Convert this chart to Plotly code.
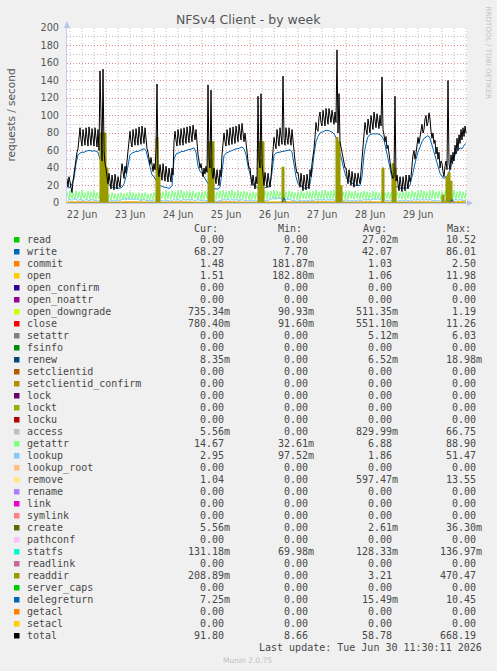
import pandas as pd
import plotly.graph_objects as go

# ---------------- data ----------------
# half-hourly samples, Jun 22 04:30 .. Jun 30 12:00 (400 points)
times30 = pd.date_range("2026-06-22 04:30", periods=400, freq="30min")
# hourly samples, Jun 22 05:00 .. Jun 30 12:00 (200 points)
times = pd.date_range("2026-06-22 05:00", periods=200, freq="h")
coarse_times = pd.date_range("2026-06-22 00:00", "2026-06-30 12:00", freq="12h")

total = [
    # Jun 22 04:30-23:30
    28, 18, 30, 22, 14, 12, 25, 35, 42, 50, 58, 62, 78, 86, 72, 65, 84, 76, 66, 86,
    74, 65, 87, 75, 66, 85, 73, 65, 86, 74, 64, 84, 60, 151, 70, 48, 153, 60, 45,
    # Jun 23
    40, 30, 22, 34, 25, 16, 32, 24, 15, 33, 24, 16, 30, 22, 18, 34, 45, 36, 28, 42,
    34, 48, 62, 72, 82, 70, 64, 84, 74, 66, 85, 75, 66, 87, 76, 67, 88, 76, 68, 86,
    72, 62, 58, 50, 44, 52, 40, 36,
    # Jun 24
    45, 38, 60, 136, 40, 30, 44, 34, 26, 45, 34, 25, 42, 32, 24, 40, 30, 24, 40, 32,
    70, 82, 72, 65, 84, 74, 66, 85, 75, 66, 86, 76, 68, 87, 77, 69, 88, 78, 70, 89,
    78, 72, 84, 66, 55, 48, 40, 45,
    # Jun 25
    38, 30, 40, 33, 42, 35, 135, 50, 40, 129, 35, 28, 40, 30, 22, 38, 28, 20, 38, 30,
    55, 68, 80, 70, 65, 84, 74, 66, 86, 75, 67, 87, 76, 68, 88, 78, 70, 90, 80, 72,
    91, 78, 70, 80, 66, 58, 48, 40,
    # Jun 26
    40, 28, 20, 32, 24, 16, 30, 22, 122, 50, 40, 125, 45, 30, 20, 35, 26, 18, 34, 24,
    18, 30, 45, 62, 75, 68, 62, 84, 73, 65, 86, 75, 67, 145, 74, 66, 86, 75, 67, 86,
    74, 66, 84, 70, 56, 48, 40, 34,
    # Jun 27
    35, 24, 18, 34, 24, 14, 32, 22, 15, 33, 24, 16, 38, 30, 45, 52, 62, 75, 92, 84,
    82, 98, 104, 92, 88, 106, 96, 88, 108, 97, 90, 108, 98, 92, 106, 96, 90, 104, 92, 175,
    80, 125, 70, 64, 58, 52, 45, 40,
    # Jun 28
    40, 30, 22, 38, 28, 20, 36, 26, 18, 34, 25, 20, 34, 28, 22, 36, 50, 66, 80, 92,
    84, 78, 96, 86, 80, 100, 90, 84, 104, 94, 86, 102, 92, 85, 100, 88, 144, 84, 78, 70,
    76, 62, 66, 55, 45, 38, 32, 28,
    # Jun 29
    30, 122, 25, 32, 22, 14, 30, 21, 13, 30, 22, 14, 32, 22, 16, 32, 24, 30, 45, 55,
    60, 50, 57, 70, 75, 68, 76, 86, 90, 80, 84, 96, 100, 88, 92, 103, 96, 82, 74, 80,
    68, 72, 56, 64, 50, 58, 40, 48,
    # Jun 30 00:00-12:00
    45, 36, 30, 42, 48, 38, 140, 45, 38, 55, 45, 58, 48, 66, 56, 74, 60, 78, 68, 84,
    72, 86, 76, 88, 80,
]

getattr_ = [
    # Jun 22 04:30-23:30
    13, 7, 4, 14, 8, 5, 12, 7, 4, 14, 9, 5, 13, 8, 4, 15, 9, 5, 12, 7,
    4, 14, 8, 4, 13, 9, 5, 14, 8, 4, 12, 7, 5, 13, 8, 4, 11, 6, 4,
    # Jun 23
    11, 6, 4, 10, 6, 3, 12, 7, 4, 11, 6, 3, 10, 6, 4, 12, 7, 4, 11, 6,
    3, 12, 7, 4, 13, 8, 4, 12, 7, 4, 11, 6, 4, 12, 7, 3, 11, 7, 4, 12,
    6, 4, 10, 6, 3, 11, 7, 4,
    # Jun 24
    12, 7, 4, 13, 8, 4, 12, 7, 5, 13, 8, 4, 14, 8, 5, 13, 7, 4, 14, 9,
    5, 13, 8, 4, 14, 8, 5, 15, 9, 4, 13, 8, 4, 14, 9, 5, 13, 7, 4, 14,
    8, 5, 12, 7, 4, 13, 8, 4,
    # Jun 25
    13, 8, 4, 14, 9, 5, 13, 8, 4, 15, 9, 5, 14, 8, 4, 13, 8, 5, 14, 9,
    4, 15, 8, 5, 13, 8, 4, 14, 9, 5, 15, 9, 4, 13, 8, 5, 14, 9, 4, 13,
    7, 5, 14, 8, 4, 13, 8, 4,
    # Jun 26
    12, 7, 4, 13, 8, 4, 12, 7, 5, 14, 8, 4, 13, 9, 5, 14, 8, 4, 13, 8,
    5, 14, 9, 5, 15, 8, 4, 14, 9, 5, 13, 8, 4, 14, 9, 5, 13, 8, 4, 14,
    8, 5, 13, 7, 4, 12, 7, 4,
    # Jun 27
    13, 8, 4, 14, 9, 5, 12, 7, 4, 14, 8, 5, 13, 8, 4, 14, 9, 5, 15, 9,
    4, 13, 8, 5, 14, 9, 4, 15, 9, 5, 13, 8, 4, 14, 9, 5, 15, 8, 4, 13,
    8, 5, 14, 9, 4, 13, 8, 4,
    # Jun 28
    13, 8, 4, 14, 9, 5, 13, 7, 4, 14, 8, 5, 12, 7, 4, 13, 8, 5, 14, 9,
    4, 13, 8, 4, 12, 7, 5, 14, 8, 4, 13, 9, 5, 12, 7, 4, 13, 8, 4, 12,
    7, 5, 13, 8, 4, 12, 7, 4,
    # Jun 29
    12, 7, 4, 13, 8, 5, 12, 7, 4, 13, 8, 4, 14, 9, 5, 13, 8, 4, 14, 9,
    5, 13, 8, 4, 14, 9, 5, 15, 9, 4, 14, 8, 5, 13, 8, 4, 14, 9, 5, 15,
    9, 4, 13, 8, 5, 14, 9, 4,
    # Jun 30 00:00-12:00
    13, 8, 4, 14, 9, 5, 13, 8, 4, 14, 9, 5, 15, 9, 4, 13, 8, 5, 14, 9,
    4, 13, 8, 5, 15,
]

write = [
    17, 18, 22, 28, 45, 55, 57, 58, 58, 59, 60, 60, 59, 60, 59, 58, 50, 40, 32,
    30, 22, 20, 18, 18, 17, 17, 17, 18, 22, 30, 45, 55, 57, 58, 59, 59, 60, 61, 62, 60, 50, 40, 32,
    30, 25, 22, 20, 19, 18, 18, 17, 17, 20, 50, 56, 57, 58, 59, 59, 60, 61, 61, 62, 63, 58, 42, 36,
    34, 30, 25, 22, 20, 18, 17, 16, 16, 18, 35, 54, 57, 58, 59, 60, 61, 62, 62, 63, 64, 62, 55, 42,
    32, 25, 20, 18, 17, 16, 16, 17, 18, 18, 20, 35, 55, 57, 58, 58, 59, 59, 60, 60, 61, 58, 42, 30,
    22, 20, 18, 17, 17, 18, 22, 35, 55, 70, 76, 80, 81, 82, 83, 83, 82, 81, 79, 75, 66, 55, 48, 38,
    30, 26, 24, 22, 21, 20, 20, 20, 30, 55, 68, 76, 78, 79, 79, 79, 79, 78, 76, 72, 62, 52, 40, 28,
    22, 19, 18, 17, 17, 17, 17, 18, 20, 30, 42, 50, 58, 65, 70, 74, 76, 77, 74, 66, 58, 48, 40, 34,
    30, 28, 30, 32, 38, 45, 52, 58, 60, 63, 62, 66, 68,
]

lookup = [
    3, 4, 3, 5, 4, 3, 4, 3, 3, 4, 3, 3, 4, 3, 3, 2, 3, 2, 2,
    2, 3, 2, 3, 2, 3, 2, 3, 4, 5, 4, 5, 4, 5, 4, 5, 4, 3, 3, 4, 3, 3, 2, 3,
    2, 3, 2, 2, 3, 2, 3, 3, 2, 3, 4, 3, 4, 3, 3, 4, 3, 4, 3, 4, 3, 3, 4, 3,
    3, 2, 3, 2, 3, 2, 3, 2, 2, 3, 3, 4, 3, 4, 3, 4, 3, 4, 3, 3, 4, 3, 3, 2,
    3, 2, 3, 2, 3, 2, 3, 2, 3, 3, 4, 5, 6, 5, 6, 5, 6, 5, 4, 5, 4, 3, 3, 2,
    2, 3, 2, 3, 2, 3, 2, 3, 3, 4, 3, 4, 3, 4, 3, 4, 3, 4, 3, 3, 4, 3, 2, 3,
    2, 3, 2, 3, 2, 3, 2, 3, 3, 4, 3, 4, 3, 4, 5, 4, 5, 4, 3, 4, 3, 3, 2, 3,
    2, 3, 2, 3, 2, 3, 2, 3, 2, 3, 4, 3, 4, 3, 4, 3, 4, 3, 4, 3, 3, 2, 3, 2,
    3, 2, 3, 2, 3, 4, 3, 4, 3, 4, 3, 3, 3,
]

readdir = [
    0, 0, 0, 0, 0, 0, 0, 0, 0, 0, 0, 0, 0, 0, 0, 0, 80, 60, 80,
    40, 0, 0, 0, 0, 0, 0, 0, 0, 0, 0, 0, 0, 0, 0, 0, 0, 0, 0, 0, 0, 0, 0, 0,
    0, 75, 40, 0, 0, 0, 0, 0, 0, 0, 0, 0, 0, 0, 0, 0, 0, 0, 0, 0, 0, 0, 0, 0,
    0, 0, 0, 70, 50, 70, 0, 0, 0, 0, 0, 0, 0, 0, 0, 0, 0, 0, 0, 0, 0, 0, 0, 0,
    0, 0, 0, 0, 70, 50, 70, 0, 0, 0, 0, 0, 0, 0, 0, 0, 41, 0, 0, 0, 0, 0, 0, 0,
    0, 0, 0, 0, 0, 0, 0, 0, 0, 0, 0, 0, 0, 0, 0, 0, 0, 0, 0, 75, 70, 20, 0, 0,
    0, 0, 0, 0, 0, 0, 0, 0, 0, 0, 0, 0, 0, 0, 0, 0, 0, 0, 40, 0, 0, 0, 0, 45,
    40, 0, 0, 0, 0, 0, 0, 0, 0, 0, 0, 0, 0, 0, 0, 0, 0, 0, 0, 0, 0, 0, 0, 0,
    9, 0, 30, 35, 25, 0, 0, 0, 0, 0, 0, 0, 0,
]

delegreturn = [
    0, 0, 0, 0, 0, 0, 0, 0, 0, 0, 0, 0, 0, 0, 0, 0, 0, 0, 0,
    0, 0, 0, 0, 0, 0, 0, 0, 0, 0, 0, 0, 0, 0, 0, 0, 0, 0, 0, 0, 0, 0, 0, 0,
    0, 0, 0, 0, 0, 0, 0, 0, 0, 0, 0, 0, 0, 0, 0, 0, 0, 0, 0, 0, 0, 0, 0, 0,
    0, 0, 0, 0, 0, 0, 0, 0, 0, 0, 0, 0, 0, 0, 0, 0, 0, 0, 0, 0, 0, 0, 0, 0,
    0, 0, 0, 0, 0, 0, 0, 0, 0, 0, 0, 0, 0, 0, 0, 0, 0, 6, 0, 0, 0, 0, 0, 0,
    0, 0, 0, 0, 0, 0, 0, 0, 0, 0, 0, 0, 0, 0, 0, 0, 0, 0, 0, 0, 0, 0, 0, 0,
    0, 0, 0, 0, 0, 0, 0, 0, 0, 0, 0, 0, 0, 0, 0, 0, 0, 0, 0, 0, 0, 0, 0, 0,
    0, 0, 0, 0, 0, 0, 0, 0, 0, 0, 0, 0, 0, 0, 0, 0, 0, 0, 0, 0, 0, 0, 0, 0,
    0, 0, 0, 0, 0, 4, 0, 0, 0, 0, 0, 0, 0,
]

commit = [0.8, 1.2, 0.7, 1.3, 0.8, 1.2, 0.7, 1.3, 0.8, 1.2, 0.9, 1.4, 0.8, 1.3, 0.7, 1.2, 0.8, 1.5]
open_ = [0.9, 1.1, 0.8, 1.2, 0.9, 1.1, 0.8, 1.2, 0.9, 1.1, 1.0, 1.3, 0.9, 1.2, 0.8, 1.1, 0.9, 1.5]
setacl = [0, 0, 0, 0, 0, 0, 0, 0, 0, 0, 0, 0, 0, 0, 0, 0, 0, 0]

day_labels = ["22 Jun", "23 Jun", "24 Jun", "25 Jun", "26 Jun", "27 Jun", "28 Jun", "29 Jun"]
y_ticks = [0, 20, 40, 60, 80, 100, 120, 140, 160, 180, 200]

names = ["read", "write", "commit", "open", "open_confirm", "open_noattr", "open_downgrade",
         "close", "setattr", "fsinfo", "renew", "setclientid", "setclientid_confirm", "lock",
         "lockt", "locku", "access", "getattr", "lookup", "lookup_root", "remove", "rename",
         "link", "symlink", "create", "pathconf", "statfs", "readlink", "readdir",
         "server_caps", "delegreturn", "getacl", "setacl", "total"]
colors = ["#00CC00", "#0066B3", "#FF8000", "#FFCC00", "#330099", "#990099", "#CCFF00",
          "#FF0000", "#808080", "#008F00", "#00487D", "#B35A00", "#B38F00", "#6B006B",
          "#8FB300", "#B30000", "#BEBEBE", "#80FF80", "#80C9FF", "#FFC080", "#FFE680",
          "#AA80FF", "#EE00CC", "#FF8080", "#666600", "#FFBFFF", "#00FFCC", "#CC6699",
          "#999900", "#00CC00", "#0066B3", "#FF8000", "#FFCC00", "#000000"]
cur = ["0.00", "68.27", "1.48", "1.51", "0.00", "0.00", "735.34m", "780.40m", "0.00", "0.00",
       "8.35m", "0.00", "0.00", "0.00", "0.00", "0.00", "5.56m", "14.67", "2.95", "0.00",
       "1.04", "0.00", "0.00", "0.00", "5.56m", "0.00", "131.18m", "0.00", "208.89m", "0.00",
       "7.25m", "0.00", "0.00", "91.80"]
mins = ["0.00", "7.70", "181.87m", "182.80m", "0.00", "0.00", "90.93m", "91.60m", "0.00", "0.00",
        "0.00", "0.00", "0.00", "0.00", "0.00", "0.00", "0.00", "32.61m", "97.52m", "0.00",
        "0.00", "0.00", "0.00", "0.00", "0.00", "0.00", "69.98m", "0.00", "0.00", "0.00",
        "0.00", "0.00", "0.00", "8.66"]
avgs = ["27.02m", "42.07", "1.03", "1.06", "0.00", "0.00", "511.35m", "551.10m", "5.12m", "0.00",
        "6.52m", "0.00", "0.00", "0.00", "0.00", "0.00", "829.99m", "6.88", "1.86", "0.00",
        "597.47m", "0.00", "0.00", "0.00", "2.61m", "0.00", "128.33m", "0.00", "3.21", "0.00",
        "15.49m", "0.00", "0.00", "58.78"]
maxs = ["10.52", "86.01", "2.50", "11.98", "0.00", "0.00", "1.19", "11.26", "6.03", "0.00",
        "18.98m", "0.00", "0.00", "0.00", "0.00", "0.00", "66.75", "88.90", "51.47", "0.00",
        "13.55", "0.00", "0.00", "0.00", "36.30m", "0.00", "136.97m", "0.00", "470.47", "0.00",
        "10.45", "0.00", "0.00", "668.19"]

# ---------------- geometry helpers ----------------
W, H = 497, 671
L, R, T, B = 67, 467, 28, 203


def px(x):
    return (x - L) / (R - L)


def py(y):
    return (B - y) / (B - T)


MONO = "DejaVu Sans Mono"
SANS = "DejaVu Sans"

fig = go.Figure()


def add_line(x, y, color, shape="linear", fill=None):
    fig.add_trace(go.Scatter(
        x=x, y=y, mode="lines", line=dict(color=color, width=1, shape=shape),
        fill=fill, fillcolor=color if fill else None,
        hoverinfo="skip", showlegend=False))


add_line(times, write, "#0066B3")
add_line(coarse_times, commit, "#FF8000")
add_line(coarse_times, open_, "#FFCC00")
add_line(times30, getattr_, "#80FF80")
add_line(times, lookup, "#80C9FF")
add_line(times, readdir, "#999900", shape="hv", fill="tozeroy")
add_line(times, delegreturn, "#0066B3")
add_line(coarse_times, setacl, "#FFCC00")
add_line(times30, total, "#000000")

x_start = pd.Timestamp("2026-06-22 04:30")
x_end = pd.Timestamp("2026-06-30 12:30")
noon_ticks = pd.date_range("2026-06-22 12:00", periods=len(day_labels), freq="D")

axis_col = "#C8CCF0"
grid_major = "rgba(230,120,120,0.75)"
grid_minor = "rgba(150,150,150,0.6)"
fig.update_xaxes(
    type="date", range=[x_start, x_end], tickmode="array", tickvals=noon_ticks,
    ticktext=day_labels, showgrid=False, zeroline=False, showline=True,
    linecolor=axis_col, linewidth=1, ticks="", ticklabelstandoff=2,
    tickfont=dict(family=SANS, size=9.7, color="#555555"))
fig.update_yaxes(
    range=[0, 200], tickmode="array", tickvals=y_ticks, showgrid=True,
    gridcolor=grid_major, griddash="1px,2px", gridwidth=1,
    minor=dict(dtick=10, tick0=0, showgrid=True, gridcolor=grid_minor,
               griddash="1px,2px", gridwidth=1),
    zeroline=False, showline=True, linecolor=axis_col, linewidth=1, ticks="",
    ticklabelstandoff=5, tickfont=dict(family=SANS, size=9.7, color="#555555"))

shapes = []
# vertical grid: 6-hourly minor (gray), midnight major (red)
for t in pd.date_range("2026-06-22 06:00", "2026-06-30 12:00", freq="6h"):
    if t.hour == 0:
        continue
    shapes.append(dict(type="line", xref="x", yref="paper", x0=t, x1=t, y0=0, y1=1,
                       layer="below", line=dict(color=grid_minor, width=1, dash="1px,2px")))
for t in pd.date_range("2026-06-23 00:00", "2026-06-30 00:00", freq="D"):
    shapes.append(dict(type="line", xref="x", yref="paper", x0=t, x1=t, y0=0, y1=1,
                       layer="below", line=dict(color=grid_major, width=1, dash="1px,2px")))

# axis arrows
arrow_col = "#B8C4F0"
shapes.append(dict(type="path", xref="paper", yref="paper",
                   path=f"M {px(64)} {py(28)} L {px(70)} {py(28)} L {px(67)} {py(21)} Z",
                   fillcolor=arrow_col, line=dict(width=0)))
shapes.append(dict(type="path", xref="paper", yref="paper",
                   path=f"M {px(467)} {py(200)} L {px(467)} {py(206)} L {px(473)} {py(203)} Z",
                   fillcolor=arrow_col, line=dict(width=0)))

ann = []
ann.append(dict(text="NFSv4 Client - by week", x=px(248), y=py(19.5), xref="paper", yref="paper",
                xanchor="center", yanchor="middle", showarrow=False,
                font=dict(family=SANS, size=12.5, color="#555555")))
ann.append(dict(text="requests / second", x=px(10), y=py(115.5), xref="paper", yref="paper",
                xanchor="center", yanchor="middle", showarrow=False, textangle=-90,
                font=dict(family=SANS, size=10.5, color="#555555")))
ann.append(dict(text="RRDTOOL / TOBI OETIKER", x=px(488.5), y=py(53), xref="paper", yref="paper",
                xanchor="center", yanchor="middle", showarrow=False, textangle=90,
                font=dict(family=SANS, size=7.2, color="#C4C4C4")))

legend_font = dict(family=MONO, size=10, color="#484848")
hdr_y = 228.3
for label, xl in zip(["Cur:", "Min:", "Avg:", "Max:"], [193.0, 277.0, 362.0, 446.0]):
    ann.append(dict(text=label, x=px(xl), y=py(hdr_y), xref="paper", yref="paper",
                    xanchor="left", yanchor="middle", showarrow=False, borderpad=0,
                    font=legend_font))

col_right = [224.8, 308.8, 392.8, 477.3]
for i, name in enumerate(names):
    yc = 239.8 + 12.0 * i
    shapes.append(dict(type="rect", xref="paper", yref="paper",
                       x0=px(14), x1=px(19.5), y0=py(237.0 + 12.0 * i), y1=py(242.5 + 12.0 * i),
                       fillcolor=colors[i], line=dict(width=0)))
    ann.append(dict(text=name, x=px(26), y=py(yc), xref="paper", yref="paper",
                    xanchor="left", yanchor="middle", showarrow=False, borderpad=0,
                    font=legend_font))
    for col, xr in zip([cur[i], mins[i], avgs[i], maxs[i]], col_right):
        xx = xr + (6.0 if col.endswith("m") else 0.0)
        ann.append(dict(text=col, x=px(xx), y=py(yc), xref="paper", yref="paper",
                        xanchor="right", yanchor="middle", showarrow=False, borderpad=0,
                        font=legend_font))

ann.append(dict(text="Last update: Tue Jun 30 11:30:11 2026", x=px(482.5), y=py(647.5),
                xref="paper", yref="paper", xanchor="right", yanchor="middle",
                showarrow=False, borderpad=0, font=legend_font))
ann.append(dict(text="Munin 2.0.75", x=px(247.5), y=py(660), xref="paper", yref="paper",
                xanchor="center", yanchor="middle", showarrow=False, borderpad=0,
                font=dict(family=SANS, size=7.5, color="#C0C0C0")))

fig.update_layout(
    width=W, height=H, autosize=False,
    margin=dict(l=L, r=W - R, t=T, b=H - B, pad=0),
    paper_bgcolor="#F0F0F0", plot_bgcolor="#FFFFFF",
    showlegend=False, shapes=shapes, annotations=ann,
)

fig.write_html("out.html")
